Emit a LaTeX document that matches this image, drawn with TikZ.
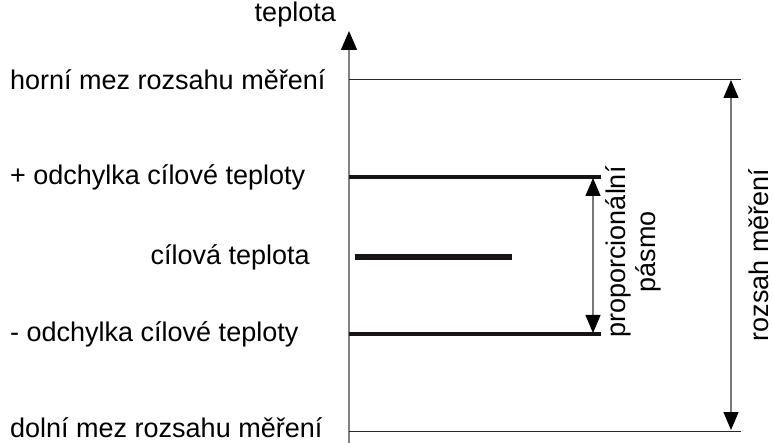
\documentclass[tikz,border=0pt]{standalone}
\usepackage{fontspec}
\setmainfont{Liberation Sans}
\usetikzlibrary{arrows.meta}
\begin{document}
\begin{tikzpicture}[x=1pt,y=-1pt,
  lbl/.style={inner sep=0pt,font=\fontsize{27}{30}\selectfont},
  axisline/.style={draw={rgb,255:red,130;green,130;blue,130},line width=1.6pt},
  thinline/.style={draw={rgb,255:red,40;green,40;blue,40},line width=1pt},
  thickline/.style={draw={rgb,255:red,25;green,20;blue,20},line width=3.2pt},
  target/.style={draw={rgb,255:red,25;green,20;blue,20},line width=5.8pt},
  dimarrow/.style={draw={rgb,255:red,120;green,120;blue,120},line width=1.2pt,
    {Triangle[length=18pt,width=15pt,color=black]}-{Triangle[length=18pt,width=15pt,color=black]}},
  axarrow/.style={-{Triangle[length=19pt,width=16pt,color=black]}}
]
\useasboundingbox (0,0) rectangle (773,443);
% axis
\coordinate (a0) at (349,443);
\coordinate (a1) at (349,31);
\draw[axisline,axarrow] (a0) -- (a1);
% levels
\coordinate (top0) at (349,80);  \coordinate (top1) at (741,80);
\coordinate (bot0) at (349,431); \coordinate (bot1) at (741,431);
\coordinate (p0) at (349,177);   \coordinate (p1) at (601,177);
\coordinate (m0) at (349,334);   \coordinate (m1) at (601,334);
\coordinate (c0) at (355,257);   \coordinate (c1) at (512,257);
\draw[thinline] (top0) -- (top1);
\draw[thinline] (bot0) -- (bot1);
\draw[thickline] (p0) -- (p1);
\draw[thickline] (m0) -- (m1);
\draw[target] (c0) -- (c1);
% dimension arrows
\coordinate (pa0) at (593,178); \coordinate (pa1) at (593,333);
\coordinate (ra0) at (731,80);  \coordinate (ra1) at (731,430);
\draw[dimarrow] (pa0) -- (pa1);
\draw[dimarrow] (ra0) -- (ra1);
% labels
\node[lbl,anchor=east] (tep) at (336,15) {teplota};
\node[lbl,anchor=west] (hm) at (10,80) {horní mez rozsahu měření};
\node[lbl,anchor=west] (po) at (10,177) {+ odchylka cílové teploty};
\node[lbl,anchor=east] (ct) at (310,257) {cílová teplota};
\node[lbl,anchor=west] (mo) at (10,334) {- odchylka cílové teploty};
\node[lbl,anchor=west] (dm) at (10,428) {dolní mez rozsahu měření};
\node[lbl,rotate=90,align=center] (pp) at (633,252) {proporcionální\\pásmo};
\node[lbl,rotate=90] (rm) at (759,255) {rozsah měření};
\end{tikzpicture}
\end{document}
